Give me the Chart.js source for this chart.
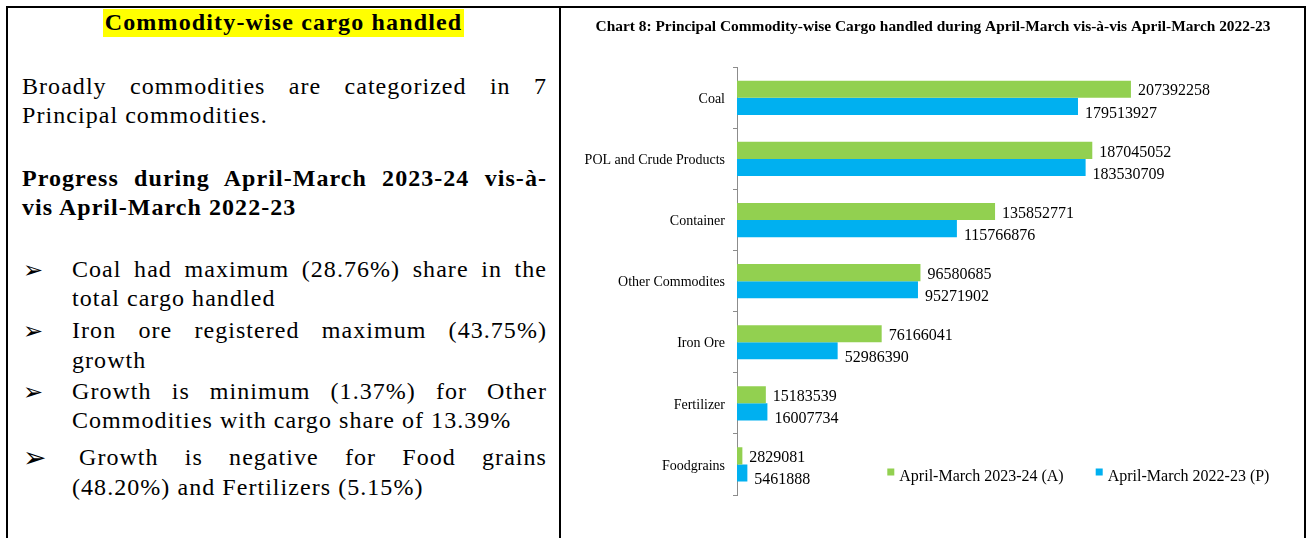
<!DOCTYPE html>
<html><head><meta charset="utf-8">
<script src="https://cdn.jsdelivr.net/npm/chart.js@4.4.1/dist/chart.umd.min.js"></script>
<style>
html,body{margin:0;padding:0;background:#fff;width:1309px;height:538px;overflow:hidden;position:relative;}
#frame{position:absolute;left:6px;top:6px;width:1296px;height:540px;border-top:2px solid #000;border-left:2px solid #000;border-right:2px solid #000;}
#sep{position:absolute;left:559px;top:6px;width:2px;height:540px;background:#000;}
.ln{position:absolute;font-family:'Liberation Serif','Times New Roman',serif;font-size:24px;line-height:28px;color:#000;letter-spacing:1.05px;white-space:nowrap;}
.j{text-align:justify;text-align-last:justify;white-space:normal;}
.b{font-weight:bold;}
.arr{position:absolute;left:23px;font-family:'DejaVu Sans',sans-serif;font-size:24px;line-height:24px;color:#000;}
#hl{position:absolute;left:103px;top:9px;width:361px;height:28px;background:#ffff00;}
#hl div{position:absolute;left:0;top:0.5px;width:361px;text-align:center;font-family:'Liberation Serif','Times New Roman',serif;font-weight:bold;font-size:24px;line-height:24px;letter-spacing:1.15px;white-space:nowrap;}
#c{position:absolute;left:562px;top:9px;}
</style>
</head><body>
<div id="frame"></div>
<div id="sep"></div>
<div id="hl"><div>Commodity-wise cargo handled</div></div>

<div class="ln j" style="left:22px;top:71.6px;width:525px;">Broadly commodities are categorized in 7</div>
<div class="ln" style="left:22px;top:100.7px;">Principal commodities.</div>
<div class="ln j b" style="left:22px;top:163.6px;width:525px;">Progress during April-March 2023-24 vis-à-</div>
<div class="ln b" style="left:22px;top:192.9px;">vis April-March 2022-23</div>

<div class="arr" style="top:257.6px;">➢</div>
<div class="ln j" style="left:72px;top:254.9px;width:475px;">Coal had maximum (28.76%) share in the</div>
<div class="ln" style="left:72px;top:284.4px;">total cargo handled</div>
<div class="arr" style="top:318.6px;">➢</div>
<div class="ln j" style="left:72px;top:315.9px;width:475px;">Iron ore registered maximum (43.75%)</div>
<div class="ln" style="left:72px;top:345.6px;">growth</div>
<div class="arr" style="top:379.6px;">➢</div>
<div class="ln j" style="left:72px;top:376.6px;width:475px;">Growth is minimum (1.37%) for Other</div>
<div class="ln" style="left:72px;top:406.4px;">Commodities with cargo share of 13.39%</div>
<div class="arr" style="top:443.6px;font-size:28px;line-height:28px;">➢</div>
<div class="ln j" style="left:79px;top:442.9px;width:468px;">Growth is negative for Food grains</div>
<div class="ln" style="left:72px;top:473.4px;">(48.20%) and Fertilizers (5.15%)</div>

<canvas id="c" width="742" height="529"></canvas>

<script>
const chartTitle = 'Chart 8: Principal Commodity-wise Cargo handled during April-March vis-à-vis April-March 2022-23';
const categories = ['Coal', 'POL and Crude Products', 'Container', 'Other Commodites', 'Iron Ore', 'Fertilizer', 'Foodgrains'];
const seriesNames = ['April-March 2023-24 (A)', 'April-March 2022-23 (P)'];
const values2023_24 = [207392258, 187045052, 135852771, 96580685, 76166041, 15183539, 2829081];
const values2022_23 = [179513927, 183530709, 115766876, 95271902, 52986390, 16007734, 5461888];
const seriesColors = ['#92D050', '#00B0F0'];

const SERIF = "'Liberation Serif','Times New Roman',serif";

const valueLabels = {
  id: 'valueLabels',
  afterDatasetsDraw(chart) {
    const ctx = chart.ctx;
    ctx.save();
    ctx.font = '16px ' + SERIF;
    ctx.fillStyle = '#000';
    ctx.textAlign = 'left';
    ctx.textBaseline = 'middle';
    const dy = [2, 7];
    chart.data.datasets.forEach((ds, i) => {
      const meta = chart.getDatasetMeta(i);
      meta.data.forEach((el, j) => {
        ctx.fillText(String(ds.data[j]), el.x + 7, el.y + dy[i]);
      });
    });
    ctx.restore();
  }
};

const insideLegend = {
  id: 'insideLegend',
  afterDraw(chart) {
    const ctx = chart.ctx;
    const a = chart.chartArea;
    ctx.save();
    ctx.font = '16px ' + SERIF;
    ctx.fillStyle = '#000';
    ctx.textAlign = 'left';
    ctx.textBaseline = 'alphabetic';
    let x = a.left + 150.3;
    const sqTop = a.bottom - 26.5;
    const base = a.bottom - 14;
    chart.data.datasets.forEach((ds) => {
      ctx.fillStyle = ds.backgroundColor;
      ctx.fillRect(x, sqTop, 7, 7);
      ctx.fillStyle = '#000';
      ctx.fillText(ds.label, x + 12, base);
      x += 12 + ctx.measureText(ds.label).width + 32;
    });
    ctx.restore();
  }
};

new Chart(document.getElementById('c'), {
  type: 'bar',
  data: {
    labels: categories,
    datasets: [
      { label: seriesNames[0], data: values2023_24, backgroundColor: seriesColors[0], borderWidth: 0, categoryPercentage: 0.56, barPercentage: 1.0 },
      { label: seriesNames[1], data: values2022_23, backgroundColor: seriesColors[1], borderWidth: 0, categoryPercentage: 0.56, barPercentage: 1.0 }
    ]
  },
  options: {
    indexAxis: 'y',
    responsive: false,
    animation: false,
    devicePixelRatio: 1,
    layout: { padding: { left: 0, right: 0, top: 0, bottom: 43 } },
    plugins: {
      legend: { display: false },
      tooltip: { enabled: false },
      title: {
        display: true,
        text: chartTitle,
        color: '#000',
        font: { family: SERIF, size: 15.4, weight: 'bold' },
        padding: { top: 8.3, bottom: 31.5 }
      }
    },
    scales: {
      x: { display: false, min: 0, max: 298500000 },
      y: {
        afterFit: (s) => { s.width = 175; },
        ticks: { color: '#000', font: { family: SERIF, size: 14 }, padding: 8, labelOffset: 1.5 },
        grid: { display: true, drawOnChartArea: false, drawTicks: true, tickLength: 4, color: '#8c8c8c', offset: true },
        border: { display: true, color: '#8c8c8c', width: 1 }
      }
    }
  },
  plugins: [valueLabels, insideLegend]
});
</script>
</body></html>
